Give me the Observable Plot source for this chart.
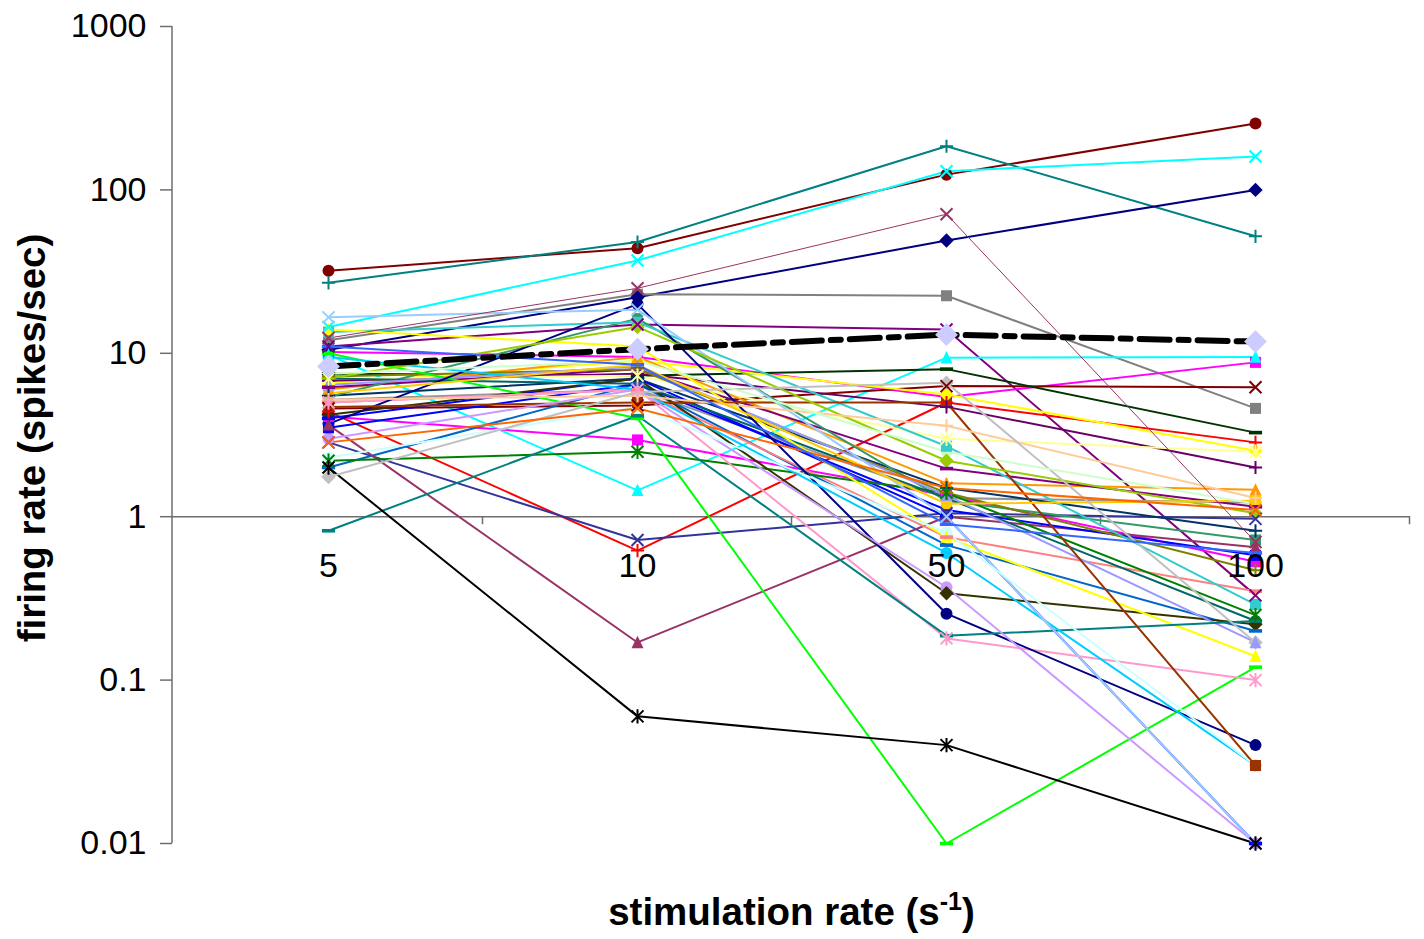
<!DOCTYPE html>
<html>
<head>
<meta charset="utf-8">
<script src="https://cdn.jsdelivr.net/npm/d3@7"></script>
<script src="https://cdn.jsdelivr.net/npm/@observablehq/plot@0.6"></script>
<style>
  html, body { margin: 0; padding: 0; background: #fff; }
  svg { display: block; }
</style>
</head>
<body>
<div id="chart"></div>
<script>
// Stimulation rates (categories on the x axis)
const rates = ["5", "10", "50", "100"];
const yTicks = [0.01, 0.1, 1, 10, 100, 1000];

// One entry per unit: line colour and marker shape
const lineColors = [
  "#800000", "#008080", "#00FFFF", "#000080", "#993366", "#808080", "#800080", "#00FFFF", "#FF00FF", "#FF00FF",
  "#800000", "#003300", "#FF0000", "#FFFF00", "#660066", "#FFFF99", "#FF9900", "#969696", "#800080", "#333399",
  "#003366", "#0066CC", "#339966", "#993366", "#0000FF", "#0000FF", "#808000", "#FF8080", "#33CCCC", "#008000",
  "#006666", "#333300", "#9999FF", "#FFFF00", "#00FF00", "#FF99CC", "#000080", "#008080", "#993300", "#00CCFF",
  "#000000", "#CC99FF", "#99CCFF", "#99CC00", "#FFCC99", "#FFCC00", "#CCFFFF", "#C0C0C0", "#FF6600", "#CCFFCC",
  "#3366FF"
];
const markerShapes = [
  "circle", "plus", "times", "diamond", "times", "square", "times", "triangle", "square", "square",
  "times", "dash", "plus", "diamond", "plus", "asterisk", "triangle", "circle", "dash", "times",
  "plus", "dash", "square", "triangle", "dash", "square", "plus", "dash", "square", "asterisk",
  "circle", "diamond", "triangle", "triangle", "dash", "asterisk", "circle", "dash", "square", "circle",
  "asterisk", "circle", "times", "diamond", "plus", "square", "circle", "diamond", "times", "circle",
  "dash"
];

// Firing rate (spikes/sec) of each unit at each stimulation rate
const fr5 = [
  32, 27, 14.5, 10.5, 12.4, 12, 11, 9.8, 10.2, 4.1,
  4.6, 7.5, 4.4, 6.5, 6.8, 7.0, 6.0, 5.2, 6.2, 2.85,
  5.5, 2.0, 5.4, 3.65, 4.0, 3.5, 7.2, 5.0, 13.5, 2.2,
  7.0, 4.2, 6.4, 14, 10, 5.0, 3.7, 0.82, 4.7, 9.5,
  2.0, 3.0, 16.6, 7.0, 5.2, 5.7, 2.3, 1.75, 2.85, 7.5,
  11
];
const fr10 = [
  44, 48, 37, 22, 25, 23, 15, 1.45, 9.5, 2.95,
  4.8, 7.3, 0.62, 9.0, 7.5, 7.3, 9.5, 6.0, 8.0, 0.72,
  7.0, 6.5, 16.3, 0.17, 7.0, 6.5, 8.0, 6.0, 15.5, 2.5,
  6.5, 7.0, 8.3, 11, 4.0, 6.0, 20, 4.15, 5.0, 6.0,
  0.06, 6.0, 18.5, 14.5, 5.5, 8.5, 4.7, 5.8, 4.6, 9.0,
  8.5
];
const fr50 = [
  124, 185, 130, 49, 71, 22.5, 14, 9.4, 5.4, 1.35,
  6.3, 8.0, 5.0, 5.6, 4.7, 3.0, 1.6, 1.3, 1.97, 1.05,
  1.5, 0.67, 1.25, 1.0, 1.0, 1.1, 1.4, 0.75, 2.7, 1.4,
  1.3, 0.34, 1.35, 0.75, 0.01, 0.18, 0.255, 0.187, 5.0, 0.6,
  0.04, 0.37, 1.0, 2.2, 3.6, 1.2, 0.8, 6.6, 1.5, 2.5,
  0.9
];
const fr100 = [
  255, 52, 160, 100, 0.7, 4.6, 0.33, 9.5, 8.8, 0.53,
  6.2, 3.27, 2.85, 2.53, 2.0, 2.5, 1.46, 1.22, 1.15, 0.97,
  0.82, 0.2, 0.72, 0.65, 0.01, 0.58, 0.47, 0.35, 0.29, 0.25,
  0.23, 0.22, 0.17, 0.14, 0.12, 0.1, 0.04, 0.23, 0.03, 0.03,
  0.01, 0.01, 0.01, 1.05, 1.3, 1.25, 0.03, 0.17, 1.1, 1.2,
  0.6
];
// Population mean
const meanRate = [8.3, 10.6, 13.0, 11.8];

const columns = [fr5, fr10, fr50, fr100];
const units = [];
lineColors.forEach((color, i) => {
  rates.forEach((rate, j) => {
    units.push({unit: i, rate, fr: columns[j][i], color, shape: markerShapes[i], thin: i === 4});
  });
});
const mean = rates.map((rate, j) => ({rate, fr: meanRate[j]}));

// Spreadsheet-style marker glyphs
const half = (size) => Math.sqrt(size / Math.PI);
const glyphs = {
  circle: {draw(c, s) { const r = half(s); c.moveTo(r, 0); c.arc(0, 0, r, 0, 2 * Math.PI); }},
  square: {draw(c, s) { const r = half(s) * 0.92; c.rect(-r, -r, 2 * r, 2 * r); }},
  diamond: {draw(c, s) { const r = half(s) * 1.2; c.moveTo(0, -r); c.lineTo(r, 0); c.lineTo(0, r); c.lineTo(-r, 0); c.closePath(); }},
  triangle: {draw(c, s) { const r = half(s); c.moveTo(0, -r * 1.1); c.lineTo(r, r * 0.95); c.lineTo(-r, r * 0.95); c.closePath(); }},
  dash: {draw(c, s) { const r = half(s); c.rect(-r * 1.1, -r * 0.3, 2.2 * r, 0.6 * r); }},
  times: {draw(c, s) { const r = half(s); c.moveTo(-r, -r); c.lineTo(r, r); c.moveTo(r, -r); c.lineTo(-r, r); }},
  plus: {draw(c, s) { const r = half(s) * 1.1; c.moveTo(-r, 0); c.lineTo(r, 0); c.moveTo(0, -r); c.lineTo(0, r); }},
  asterisk: {draw(c, s) { const r = half(s); c.moveTo(-r, -r); c.lineTo(r, r); c.moveTo(r, -r); c.lineTo(-r, r); c.moveTo(0, -r * 1.2); c.lineTo(0, r * 1.2); }}
};
const filled = ["circle", "square", "diamond", "triangle", "dash"];

const markerMarks = Object.keys(glyphs).map((shape) =>
  filled.includes(shape)
    ? Plot.dot(units, {filter: (d) => d.shape === shape, x: "rate", y: "fr", symbol: glyphs[shape], r: 6, fill: "color", stroke: "none"})
    : Plot.dot(units, {filter: (d) => d.shape === shape, x: "rate", y: "fr", symbol: glyphs[shape], r: 6, stroke: "color", strokeWidth: 2, fill: "none"})
);

const axisColor = "#6e6e6e";

// Vertical axis line and the category-boundary ticks along the horizontal axis at y = 1
const axisFrame = (index, scales, values, dims) => {
  const g = d3.create("svg:g").attr("stroke", axisColor).attr("stroke-width", 1.5);
  const left = dims.marginLeft;
  const top = dims.marginTop;
  const bottom = dims.height - dims.marginBottom;
  const step = scales.x(rates[1]) - scales.x(rates[0]);
  const y1 = scales.y(1);
  g.append("line").attr("x1", left).attr("x2", left).attr("y1", top).attr("y2", bottom);
  rates.forEach((r) => {
    const x = scales.x(r) + step / 2;
    g.append("line").attr("x1", x).attr("x2", x).attr("y1", y1).attr("y2", y1 + 8);
  });
  return g.node();
};

const font = "Liberation Sans, Arial, Helvetica, sans-serif";

const chart = Plot.plot({
  width: 1424,
  height: 939,
  marginLeft: 172,
  marginRight: 14,
  marginTop: 26,
  marginBottom: 96,
  style: {fontFamily: font, background: "#fff", color: "#000"},
  x: {type: "point", domain: rates, padding: 0.5, axis: null},
  y: {type: "log", domain: [0.01, 1000], axis: null},
  color: {type: "identity"},
  marks: [
    Plot.ruleY([1], {stroke: axisColor, strokeWidth: 1.5}),
    axisFrame,
    Plot.axisY({ticks: yTicks, tickFormat: (d) => String(d), tickSize: 12, tickPadding: 14, fontSize: 34, stroke: axisColor, strokeWidth: 1.5, label: null, fill: "#000"}),
    Plot.line(units, {filter: (d) => !d.thin, x: "rate", y: "fr", z: "unit", stroke: "color", strokeWidth: 2}),
    Plot.line(units, {filter: (d) => d.thin, x: "rate", y: "fr", z: "unit", stroke: "color", strokeWidth: 1}),
    ...markerMarks,
    Plot.line(mean, {x: "rate", y: "fr", stroke: "#000", strokeWidth: 6, strokeDasharray: "30,9,10,9"}),
    Plot.dot(mean, {x: "rate", y: "fr", symbol: glyphs.diamond, r: 9.5, fill: "#CCCCFF", stroke: "none"}),
    Plot.text(rates, {x: (d) => d, y: () => 1, dy: 49, text: (d) => d, fontSize: 34, fill: "#000"}),
    Plot.text(["firing rate (spikes/sec)"], {frameAnchor: "left", textAnchor: "middle", lineAnchor: "middle", dx: -140, dy: 3, rotate: -90, fontSize: 38.5, fontWeight: "bold", fill: "#000"}),
    Plot.text(["stimulation rate (s-1)"], {frameAnchor: "bottom", textAnchor: "middle", lineAnchor: "middle", dy: 69, fontSize: 38.5, fontWeight: "bold", fill: "#000"})
  ]
});

// Superscript exponent in the x-axis title
d3.select(chart).selectAll("text")
  .filter(function () { return this.textContent === "stimulation rate (s-1)"; })
  .each(function () {
    const t = d3.select(this);
    t.text(null);
    t.append("tspan").text("stimulation rate (s");
    t.append("tspan").attr("dy", "-15").attr("font-size", 25).text("-1");
    t.append("tspan").attr("dy", "15").text(")");
  });

document.getElementById("chart").appendChild(chart);
</script>
</body>
</html>
